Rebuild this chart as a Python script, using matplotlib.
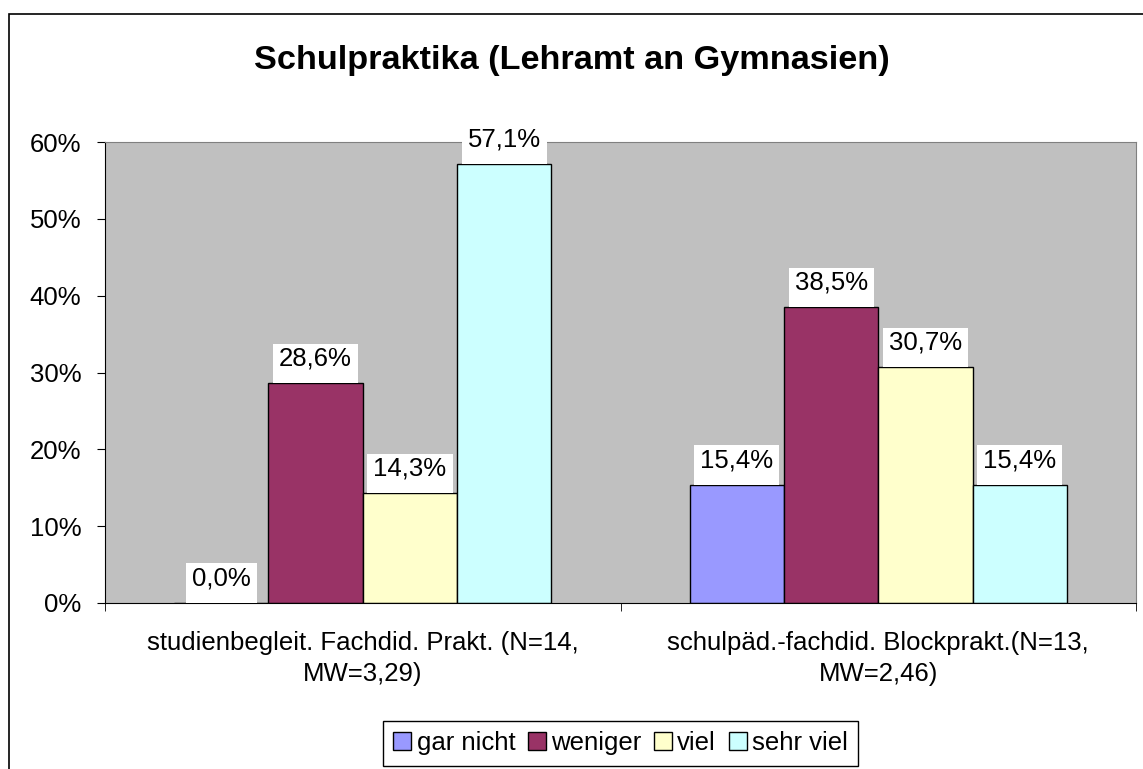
import matplotlib.pyplot as plt
import matplotlib.patches as mpatches
import numpy as np

plt.rcParams['font.family'] = ['Liberation Sans', 'DejaVu Sans']

groups = ['studienbegleit. Fachdid. Prakt. (N=14,\nMW=3,29)',
          'schulpäd.-fachdid. Blockprakt.(N=13,\nMW=2,46)']
series = ['gar nicht', 'weniger', 'viel', 'sehr viel']
gar_nicht = [0.0, 15.4]
weniger = [28.6, 38.5]
viel = [14.3, 30.7]
sehr_viel = [57.1, 15.4]
colors = ['#9999FF', '#993366', '#FFFFCC', '#CCFFFF']

fs = 18.5

fig = plt.figure(figsize=(11.43, 7.69), dpi=100)
ax = fig.add_axes([0.0919, 0.2159, 0.902, 0.5994])
ax.set_facecolor('#C0C0C0')

# outer chart frame (runs off the right and bottom edge)
fig.patches.append(mpatches.Rectangle((9 / 1143, -0.05), 1.2, 1 - 14 / 769 + 0.05,
                                      transform=fig.transFigure, fill=False,
                                      edgecolor='black', linewidth=1.2, clip_on=False))

x = np.arange(len(groups))
w = 0.183
labels = []
for i, (name, vals) in enumerate(zip(series, [gar_nicht, weniger, viel, sehr_viel])):
    pos = x + (i - 1.5) * w
    ax.bar(pos, vals, w, color=colors[i], edgecolor='black', linewidth=1.0,
           label=name, zorder=2)
    for p, v in zip(pos, vals):
        t = ax.annotate(f"{v:.1f}%".replace('.', ','), (p, v), xytext=(0, 9),
                        textcoords='offset points', ha='center', va='bottom',
                        fontsize=fs, zorder=4)
        labels.append((t, v))

ax.set_xlim(-0.5, 1.5)
ax.set_ylim(0, 60)
ax.set_yticks(np.arange(0, 61, 10))
ax.set_yticklabels([f"{v}%" for v in range(0, 61, 10)], fontsize=fs)
ax.set_xticks(x)
ax.set_xticklabels(groups, fontsize=fs, linespacing=1.4)
ax.tick_params(axis='x', length=0, pad=20)
ax.set_xticks([-0.5, 0.5, 1.5], minor=True)
ax.tick_params(axis='x', which='minor', length=6, direction='out')
ax.tick_params(axis='y', length=6, direction='out', pad=11)

for s in ['top', 'right']:
    ax.spines[s].set_color('#808080')
for s in ['left', 'bottom']:
    ax.spines[s].set_color('black')

# white boxes behind the value labels, reaching down to the bar top
fig.canvas.draw()
inv = ax.transData.inverted()
for t, v in labels:
    bb = t.get_window_extent()
    (x0, _), (x1, y1) = inv.transform([(bb.x0 - 6, bb.y0), (bb.x1 + 6, bb.y1 + 3)])
    ax.add_patch(mpatches.Rectangle((x0, v), x1 - x0, y1 - v, facecolor='white',
                                    edgecolor='none', zorder=3, clip_on=False))

fig.text(0.5, 1 - 60 / 769, 'Schulpraktika (Lehramt an Gymnasien)', ha='center',
         va='center', fontsize=24.7, fontweight='bold')

fig.legend(loc='upper center', bbox_to_anchor=(0.543, 1 - 721 / 769), ncol=4,
           fontsize=fs, frameon=True, fancybox=False, edgecolor='black',
           handlelength=0.7, handleheight=0.7, handletextpad=0.2, columnspacing=0.5,
           borderpad=0.4, borderaxespad=0, framealpha=1)

fig.savefig('out.png', dpi=100)
